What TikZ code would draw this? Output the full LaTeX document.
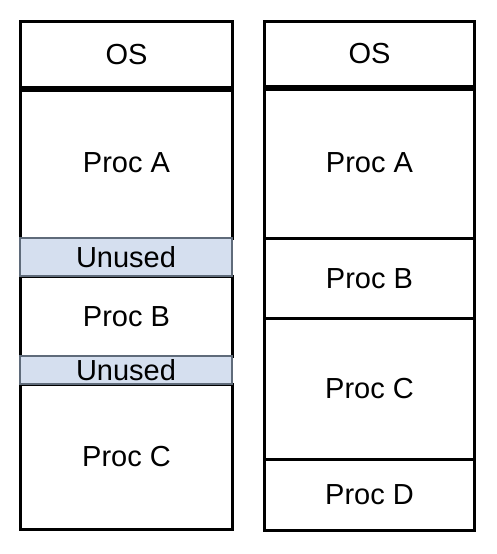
\documentclass[tikz,border=0pt]{standalone}
\usepackage{fontspec}
\setmainfont{Liberation Sans}
\definecolor{unusedfill}{RGB}{213,223,239}
\definecolor{unusedline}{RGB}{95,107,122}
\begin{document}
\begin{tikzpicture}[x=1pt,y=-1pt,
  blk/.style={draw=black,line width=3pt,fill=white,inner sep=0pt,anchor=north west,
    font=\fontsize{29}{31}\selectfont},
  lblk/.style={blk,minimum width=212pt},
  rblk/.style={blk,minimum width=210pt},
  unusedblk/.style={lblk,fill=unusedfill,draw=unusedline,line width=2pt},
  osline/.style={line width=5pt,line cap=butt}]
\useasboundingbox (0,0) rectangle (497,554);
% left column
\node[lblk,minimum height=66pt] (lOS) at (19,20) {OS};
\node[lblk,minimum height=151pt] (lA) at (19,86) {Proc A};
\node[lblk,minimum height=80pt] (lB) at (19,275) {Proc B};
\node[lblk,minimum height=145pt] (lC) at (19,383) {Proc C};
\node[unusedblk,minimum height=38pt] (lU1) at (19,237) {Unused};
\node[unusedblk,minimum height=28pt] (lU2) at (19,355) {Unused};
\draw[osline] (lOS.south west) -- (lOS.south east);
% right column
\node[rblk,minimum height=65pt] (rOS) at (263,20) {OS};
\node[rblk,minimum height=152pt] (rA) at (263,85) {Proc A};
\node[rblk,minimum height=80pt] (rB) at (263,237) {Proc B};
\node[rblk,minimum height=141pt] (rC) at (263,317) {Proc C};
\node[rblk,minimum height=71pt] (rD) at (263,458) {Proc D};
\draw[osline] (rOS.south west) -- (rOS.south east);
\end{tikzpicture}
\end{document}
